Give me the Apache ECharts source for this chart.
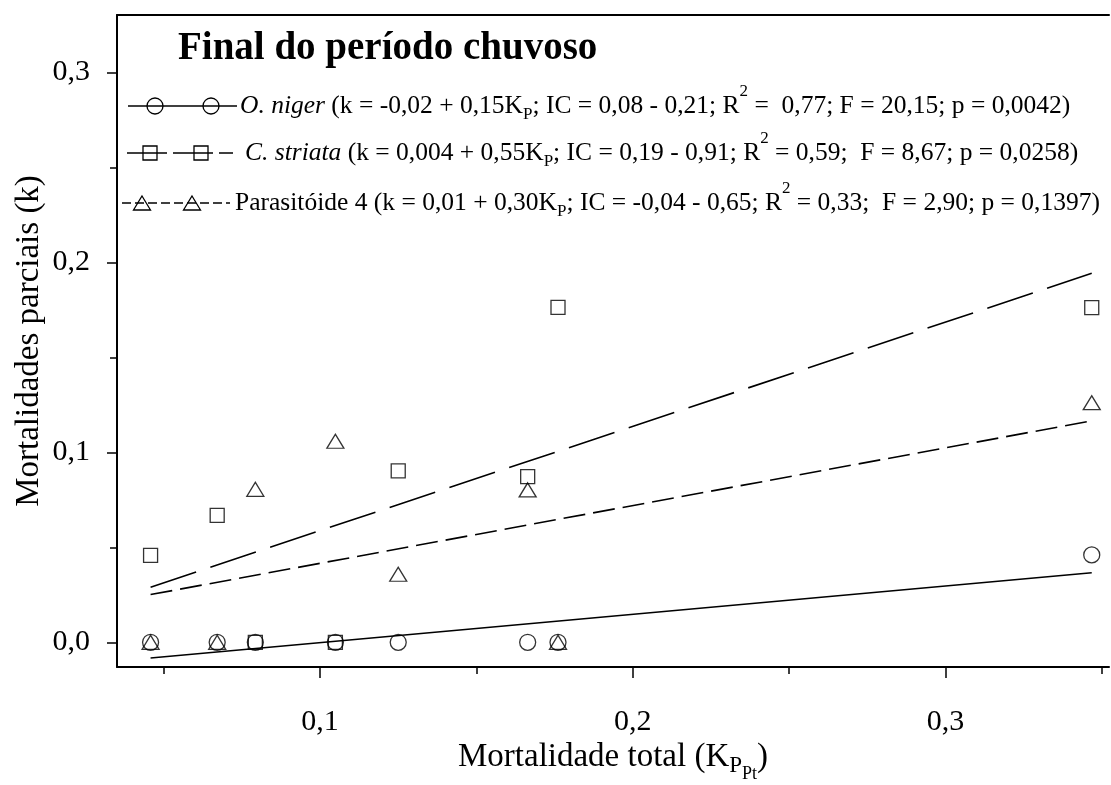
<!DOCTYPE html>
<html>
<head>
<meta charset="utf-8">
<script src="https://cdn.jsdelivr.net/npm/echarts@6/dist/echarts.min.js"></script>
<style>
  html, body { margin: 0; padding: 0; background: #fff; }
  #chart { width: 1111px; height: 785px; }
</style>
</head>
<body>
<div id="chart"></div>
<script>
// Total mortality (K_PPt) and partial mortalities (k) per natural enemy
const totalMortality = [0.0458, 0.0671, 0.0793, 0.1049, 0.1250, 0.1664, 0.1761, 0.3468];
const oNiger        = [0, 0, 0, 0, 0, 0, 0, 0.0460];
const cStriata      = [0.0458, 0.0668, 0, 0, 0.0902, 0.0872, 0.1763, 0.1761];
const parasitoid4   = [0, 0, 0.0805, 0.1058, 0.0358, 0.0802, 0, 0.1261];

// Regression coefficients (k = a + b*K_P) for O. niger, C. striata, Parasitóide 4
const fitIntercepts = [-0.0151, 0.0039, 0.0112];
const fitSlopes     = [0.1490, 0.5487, 0.3038];

// Axis ticks
const xMajorTicks = [0.1, 0.2, 0.3];
const xMinorTicks = [0.05, 0.15, 0.25, 0.35];
const yMajorTicks = [0, 0.1, 0.2, 0.3];
const yMinorTicks = [0.05, 0.15, 0.25];

const FONT = 'Liberation Serif';
const X_MIN = 0.03506, X_MAX = 0.35232;
const Y_MIN = -0.0130, Y_MAX = 0.33016;

const comma = v => v.toFixed(1).replace('.', ',');
const pairs = ys => totalMortality.map((x, i) => [x, ys[i]]);
const xLo = Math.min(...totalMortality), xHi = Math.max(...totalMortality);
const fitLine = i => [[xLo, fitIntercepts[i] + fitSlopes[i] * xLo],
                      [xHi, fitIntercepts[i] + fitSlopes[i] * xHi]];

const markerStyle = { color: 'rgba(0,0,0,0)', borderColor: '#000', borderWidth: 1.3 };
const fitStyle = type => ({ color: '#000', width: 1.6, type: type });

const baseAxis = { min: X_MIN, max: X_MAX, type: 'value', splitLine: { show: false } };
const baseYAxis = { min: Y_MIN, max: Y_MAX, type: 'value', splitLine: { show: false } };

const tok = (size, extra) => Object.assign({ fontFamily: FONT, fontSize: size, color: '#000' }, extra || {});

// legend text
const LEG_SIZE = 25.5;
const LEG_LH = 36;
const legRich = {
  it:  { fontFamily: FONT, fontSize: LEG_SIZE, fontStyle: 'italic', fill: '#000', lineHeight: LEG_LH },
  sub: { fontFamily: FONT, fontSize: 17, fill: '#000', padding: [17, 0, 0, 0], lineHeight: LEG_LH },
  sup: { fontFamily: FONT, fontSize: 17, fill: '#000', padding: [0, 0, 28, 0], lineHeight: LEG_LH }
};
const legendRows = [
  { y: 106, textX: 240, line: [128, 237], dash: null, marks: [155, 211], kind: 'circle',
    text: '{it|O. niger} (k = -0,02 + 0,15K{sub|P}; IC = 0,08 - 0,21; R{sup|2} =  0,77; F = 20,15; p = 0,0042)' },
  { y: 153, textX: 245, line: [127, 233], dash: [40, 6], marks: [150, 201], kind: 'rect',
    text: '{it|C. striata} (k = 0,004 + 0,55K{sub|P}; IC = 0,19 - 0,91; R{sup|2} = 0,59;  F = 8,67; p = 0,0258)' },
  { y: 203, textX: 235, line: [122, 230], dash: [9, 4], marks: [142, 192], kind: 'triangle',
    text: 'Parasitóide 4 (k = 0,01 + 0,30K{sub|P}; IC = -0,04 - 0,65; R{sup|2} = 0,33;  F = 2,90; p = 0,1397)' }
];

const graphics = [{
  type: 'text', x: 178, y: 49,
  style: { text: 'Final do período chuvoso', fontFamily: FONT, fontSize: 39, fontWeight: 'bold',
           fill: '#000', verticalAlign: 'middle', align: 'left' }
}];
legendRows.forEach(r => {
  graphics.push({
    type: 'line', shape: { x1: r.line[0], y1: r.y, x2: r.line[1], y2: r.y },
    style: { stroke: '#000', lineWidth: 1.3, lineDash: r.dash || null }
  });
  r.marks.forEach(mx => {
    const st = { fill: 'none', stroke: '#000', lineWidth: 1.3 };
    if (r.kind === 'circle') {
      graphics.push({ type: 'circle', shape: { cx: mx, cy: r.y, r: 8 }, style: st });
    } else if (r.kind === 'rect') {
      graphics.push({ type: 'rect', shape: { x: mx - 7, y: r.y - 7, width: 14, height: 14 }, style: st });
    } else {
      graphics.push({ type: 'polygon', shape: { points: [[mx, r.y - 7], [mx + 8.5, r.y + 7], [mx - 8.5, r.y + 7]] }, style: st });
    }
  });
  graphics.push({
    type: 'text', x: r.textX, y: r.y,
    style: { text: r.text, rich: legRich, fontFamily: FONT, fontSize: LEG_SIZE, fill: '#000',
             verticalAlign: 'middle', align: 'left', lineHeight: LEG_LH }
  });
});

const chart = echarts.init(document.getElementById('chart'), null, { renderer: 'canvas' });
chart.setOption({
  animation: false,
  backgroundColor: '#fff',
  grid: { left: 117, top: 15, right: 2, bottom: 118, outerBoundsMode: 'none' },
  xAxis: [
    Object.assign({}, baseAxis, {
      position: 'bottom',
      axisLine: { show: true, onZero: false, lineStyle: { color: '#000', width: 2 } },
      axisTick: { show: true, length: 11, customValues: xMajorTicks, lineStyle: { color: '#000', width: 1.5 } },
      axisLabel: { show: true, customValues: xMajorTicks, margin: 40, formatter: comma,
                   fontFamily: FONT, fontSize: 30, color: '#000' },
      name: 'Mortalidade total (K{s1|P}{s2|Pt})',
      nameLocation: 'middle', nameGap: 68, nameMoveOverlap: false,
      nameTextStyle: {
        fontFamily: FONT, fontSize: 33, color: '#000', lineHeight: 44,
        rich: {
          s1: tok(23, { padding: [17, 0, 0, 0], lineHeight: 44 }),
          s2: tok(18, { padding: [35, 0, 0, 0], lineHeight: 44 })
        }
      }
    }),
    Object.assign({}, baseAxis, {
      position: 'bottom',
      axisLine: { show: false, onZero: false },
      axisTick: { show: true, length: 7, customValues: xMinorTicks, lineStyle: { color: '#000', width: 1.5 } },
      axisLabel: { show: false }
    }),
    Object.assign({}, baseAxis, {
      position: 'top',
      axisLine: { show: true, onZero: false, lineStyle: { color: '#000', width: 2 } },
      axisTick: { show: false },
      axisLabel: { show: false }
    })
  ],
  yAxis: [
    Object.assign({}, baseYAxis, {
      position: 'left',
      axisLine: { show: true, onZero: false, lineStyle: { color: '#000', width: 2 } },
      axisTick: { show: true, length: 10, customValues: yMajorTicks, lineStyle: { color: '#000', width: 1.5 } },
      axisLabel: { show: true, customValues: yMajorTicks, margin: 27, formatter: comma,
                   fontFamily: FONT, fontSize: 30, color: '#000' },
      name: 'Mortalidades parciais (k)',
      nameLocation: 'middle', nameGap: 71, nameRotate: 90, nameMoveOverlap: false,
      nameTextStyle: { fontFamily: FONT, fontSize: 33, color: '#000' }
    }),
    Object.assign({}, baseYAxis, {
      position: 'left',
      axisLine: { show: false, onZero: false },
      axisTick: { show: true, length: 7, customValues: yMinorTicks, lineStyle: { color: '#000', width: 1.5 } },
      axisLabel: { show: false }
    })
  ],
  series: [
    { name: 'O. niger fit', type: 'line', data: fitLine(0), symbol: 'none', lineStyle: fitStyle('solid'), z: 2 },
    { name: 'C. striata fit', type: 'line', data: fitLine(1), symbol: 'none', lineStyle: fitStyle([48, 15]), z: 2 },
    { name: 'Parasitóide 4 fit', type: 'line', data: fitLine(2), symbol: 'none', lineStyle: fitStyle([22, 8]), z: 2 },
    { name: 'O. niger', type: 'scatter', data: pairs(oNiger), symbol: 'circle', symbolSize: 16, itemStyle: markerStyle, z: 3 },
    { name: 'C. striata', type: 'scatter', data: pairs(cStriata), symbol: 'rect', symbolSize: 14, itemStyle: markerStyle, z: 3 },
    { name: 'Parasitóide 4', type: 'scatter', data: pairs(parasitoid4), symbol: 'triangle', symbolSize: [17, 14], itemStyle: markerStyle, z: 3 }
  ],
  graphic: graphics
});
</script>
</body>
</html>
